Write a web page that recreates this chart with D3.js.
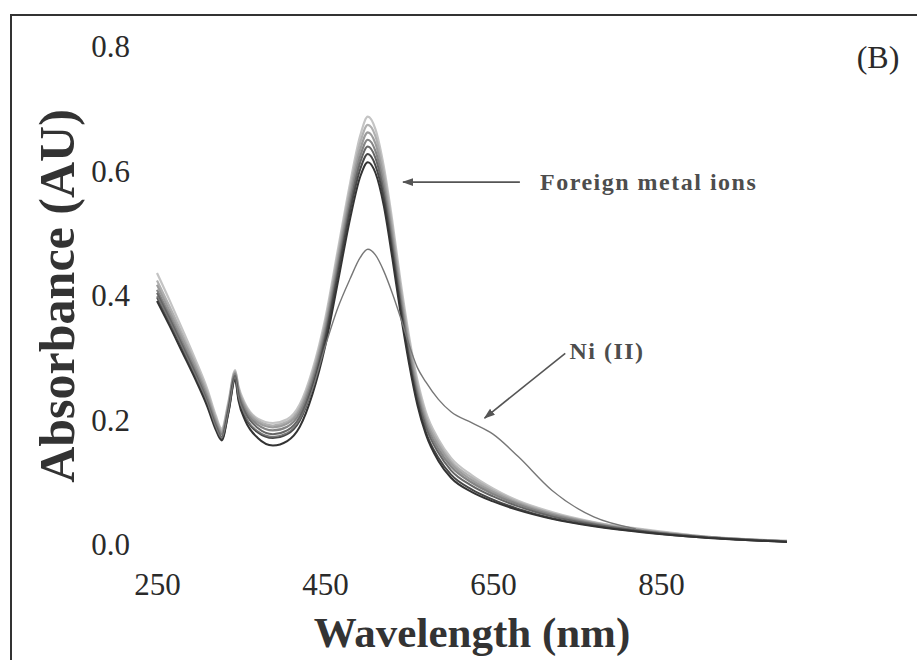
<!DOCTYPE html>
<html><head><meta charset="utf-8">
<script src="https://cdn.jsdelivr.net/npm/d3@7"></script>
<style>body{margin:0;background:#fff} svg{display:block}</style>
</head><body><svg id="c" width="917" height="660"></svg>
<script>
// ---- data ----
const wavelengths = [250,265,280,295,310,320,327,335,343,347,355,370,388,405,420,435,450,465,480,492,501,510,520,530,540,550,560,570,585,600,625,650,680,720,770,830,900,1000];
const foreign1 = [0.392,0.352,0.310,0.268,0.222,0.185,0.168,0.212,0.266,0.232,0.200,0.172,0.160,0.167,0.190,0.242,0.318,0.420,0.525,0.592,0.615,0.598,0.545,0.462,0.372,0.292,0.225,0.178,0.135,0.108,0.085,0.070,0.056,0.042,0.030,0.020,0.012,0.005];
const foreign2 = [0.398,0.358,0.316,0.273,0.226,0.188,0.170,0.214,0.268,0.236,0.206,0.181,0.172,0.178,0.200,0.252,0.328,0.432,0.537,0.604,0.628,0.610,0.556,0.472,0.380,0.298,0.230,0.182,0.140,0.113,0.089,0.073,0.058,0.043,0.031,0.021,0.012,0.005];
const foreign3 = [0.405,0.364,0.321,0.278,0.230,0.192,0.174,0.218,0.272,0.242,0.213,0.188,0.178,0.184,0.206,0.258,0.335,0.440,0.546,0.615,0.640,0.622,0.566,0.482,0.388,0.305,0.238,0.190,0.148,0.120,0.095,0.078,0.062,0.046,0.033,0.022,0.013,0.006];
const foreign4 = [0.410,0.369,0.326,0.283,0.235,0.196,0.178,0.221,0.275,0.246,0.217,0.193,0.184,0.190,0.212,0.264,0.342,0.448,0.555,0.625,0.651,0.633,0.576,0.492,0.396,0.312,0.244,0.196,0.154,0.126,0.100,0.082,0.065,0.048,0.034,0.022,0.013,0.006];
const foreign5 = [0.418,0.376,0.333,0.289,0.240,0.200,0.181,0.224,0.277,0.249,0.221,0.197,0.189,0.195,0.217,0.270,0.349,0.456,0.564,0.636,0.663,0.645,0.587,0.502,0.405,0.320,0.251,0.202,0.160,0.131,0.104,0.085,0.067,0.050,0.035,0.023,0.013,0.006];
const foreign6 = [0.425,0.383,0.339,0.294,0.245,0.204,0.184,0.227,0.279,0.252,0.224,0.200,0.192,0.198,0.221,0.275,0.355,0.464,0.573,0.647,0.675,0.657,0.598,0.512,0.414,0.328,0.258,0.208,0.165,0.135,0.108,0.088,0.069,0.051,0.036,0.024,0.014,0.006];
const foreign7 = [0.437,0.393,0.347,0.300,0.250,0.208,0.187,0.230,0.281,0.255,0.227,0.203,0.196,0.202,0.226,0.281,0.362,0.472,0.582,0.658,0.688,0.668,0.608,0.522,0.423,0.336,0.265,0.214,0.170,0.140,0.112,0.091,0.071,0.053,0.037,0.025,0.014,0.007];
const niWavelengths = [250,265,280,295,310,320,327,335,343,347,355,370,388,405,420,435,450,465,480,492,501,510,520,530,540,550,560,570,585,600,625,650,680,720,770,820];
const niValues = [0.400,0.360,0.318,0.275,0.229,0.190,0.172,0.215,0.269,0.238,0.208,0.183,0.174,0.180,0.202,0.250,0.318,0.380,0.428,0.462,0.475,0.466,0.440,0.405,0.365,0.322,0.285,0.262,0.234,0.214,0.196,0.178,0.142,0.088,0.045,0.026];
const xTicks = [250,450,650,850];
const yTicks = [0.0,0.2,0.4,0.6,0.8];
const foreignColors = ["#c4c4c4","#b0b0b0","#9c9c9c","#858585","#666666","#474747","#333333"];

// ---- layout ----
const svg = d3.select("#c");
const x = d3.scaleLinear().domain([250,850]).range([157,661]);
const y = d3.scaleLinear().domain([0,0.8]).range([545,47]);

// frame (left + top)
svg.append("path").attr("d","M11,660 L11,15 L917,15").attr("fill","none").attr("stroke","#333").attr("stroke-width",2);

const line = d3.line().x(d=>x(d[0])).y(d=>y(d[1])).curve(d3.curveMonotoneX);

const foreign = [foreign7,foreign6,foreign5,foreign4,foreign3,foreign2,foreign1];
foreign.forEach((vals,i)=>{
  svg.append("path").datum(wavelengths.map((w,j)=>[w,vals[j]]))
    .attr("d",line).attr("fill","none").attr("stroke",foreignColors[i])
    .attr("stroke-width", i<4 ? 2.2 : 2);
});
svg.append("path").datum(niWavelengths.map((w,j)=>[w,niValues[j]]))
  .attr("d",line).attr("fill","none").attr("stroke","#777").attr("stroke-width",1.4);

// axes (labels only)
const serif = "'Liberation Serif','Times New Roman',serif";
const gy = svg.append("g").attr("transform","translate(130,0)")
  .call(d3.axisLeft(y).tickValues(yTicks).tickSize(0).tickPadding(0).tickFormat(d3.format(".1f")));
const gx = svg.append("g").attr("transform","translate(0,573)")
  .call(d3.axisBottom(x).tickValues(xTicks).tickSize(0).tickPadding(0).tickFormat(d3.format("d")));
[gx,gy].forEach(g=>{
  g.select(".domain").remove();
  g.selectAll("text").attr("font-family",serif).attr("font-size",31).attr("fill","#2a2a2a");
});

// axis titles
svg.append("text").attr("x",472).attr("y",647).attr("text-anchor","middle")
  .attr("font-family",serif).attr("font-weight","bold").attr("font-size",43).attr("fill","#333")
  .text("Wavelength (nm)");
svg.append("text").attr("transform","translate(74,296) rotate(-90)").attr("text-anchor","middle")
  .attr("font-family",serif).attr("font-weight","bold").attr("font-size",50).attr("fill","#333")
  .text("Absorbance (AU)");

// panel label
svg.append("text").attr("x",878).attr("y",68).attr("text-anchor","middle")
  .attr("font-family",serif).attr("font-size",32).attr("fill","#2a2a2a").text("(B)");

// annotations
svg.append("defs").append("marker").attr("id","ah").attr("viewBox","0 0 10 10")
  .attr("refX",9).attr("refY",5).attr("markerWidth",7).attr("markerHeight",7).attr("orient","auto")
  .append("path").attr("d","M0,1.5 L10,5 L0,8.5 Z").attr("fill","#555");
const annotations = [
  {text:"Foreign metal ions", tx:706, ty:0.583, fromW:682, fromA:0.583, toW:543, toA:0.583},
  {text:"Ni (II)", tx:741, ty:0.313, fromW:736, fromA:0.308, toW:640, toA:0.204}
];
annotations.forEach(a=>{
  svg.append("line").attr("x1",x(a.fromW)).attr("y1",y(a.fromA)).attr("x2",x(a.toW)).attr("y2",y(a.toA))
    .attr("stroke","#555").attr("stroke-width",1.6).attr("marker-end","url(#ah)");
  svg.append("text").attr("x",x(a.tx)).attr("y",y(a.ty)).attr("dy","0.35em")
    .attr("font-family",serif).attr("font-weight","bold").attr("font-size",24)
    .attr("letter-spacing","1.5px").attr("fill","#4d4d4d").text(a.text);
});
</script></body></html>
